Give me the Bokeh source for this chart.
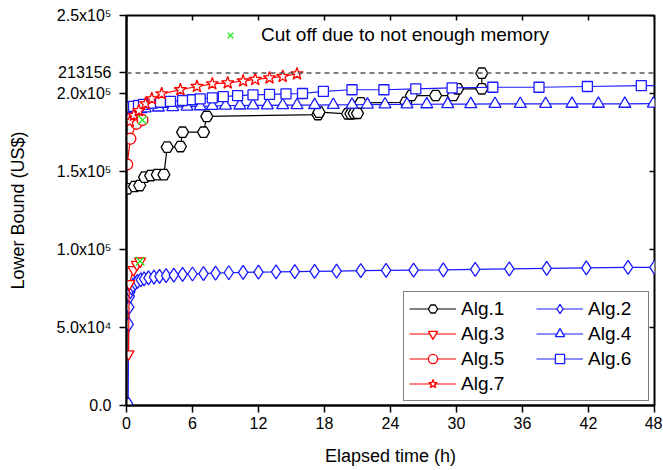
import math
from bokeh.plotting import figure
from bokeh.models import Range1d, FixedTicker, Span, Legend, LegendItem
from bokeh.embed import file_html
from bokeh.resources import INLINE

FONT = "Liberation Sans"
UPPER_BOUND = 213156
X_MIN, X_MAX = 0, 48
Y_MIN, Y_MAX = 0, 250000

x_ticks = [0, 6, 12, 18, 24, 30, 36, 42, 48]
y_ticks = [0, 50000, 100000, 150000, 200000, UPPER_BOUND, 250000]
y_tick_labels = ["0.0", "5.0x10⁴", "1.0x10⁵", "1.5x10⁵", "2.0x10⁵", "213156", "2.5x10⁵"]
y_mirror_ticks = [0, 50000, 100000, 150000, 200000, 250000]

# Alg.1 (black pentagons)
alg1_t = [0.06, 0.73, 1.2, 1.64, 2.2, 2.8, 3.4, 3.7, 4.9, 5.1, 7.0, 7.3, 17.4, 17.5,
          20.1, 20.4, 20.7, 21.0, 21.3, 25.4, 25.9, 28.1, 29.7, 30.1, 32.3, 32.3]
alg1_v = [138900, 140400, 141000, 146400, 147400, 148000, 148000, 165600, 166000, 175200, 175200, 185300, 186500, 188000,
          187000, 187000, 187300, 187300, 194000, 194400, 198700, 198700, 198700, 203000, 203000, 213000]

# Alg.2 (blue diamonds)
alg2_t = [0.15, 0.2, 0.25, 0.3, 0.35, 0.45, 0.6, 0.8, 1.0, 1.3, 1.6, 2.0, 2.5, 3.0, 3.6, 4.3, 5.1, 6.0,
          7.0, 8.1, 9.3, 10.6, 12.0, 13.6, 15.3, 17.1, 19.1, 21.3, 23.6, 26.1, 28.8, 31.7, 34.8,
          38.2, 41.8, 45.6, 48.0]
alg2_v = [1000, 52000, 63000, 70000, 73000, 75500, 77000, 78500, 79500, 80500, 81200, 81800, 82300, 82800,
          83200, 83600, 84000, 84300, 84600, 84900, 85100, 85300, 85500, 85600, 85800, 86000, 86200, 86400,
          86600, 86800, 87000, 87300, 87600, 87900, 88200, 88500, 88600]

# Alg.3 (red inverted triangles)
alg3_t = [0.18, 0.25, 0.64, 0.94, 1.24]
alg3_v = [33000, 78000, 87000, 90400, 92500]

# Alg.4 (blue triangles)
alg4_t = [0.2, 0.45, 0.8, 1.3, 1.7, 2.9, 4.2, 5.5, 6.7, 7.8, 9.0, 10.3, 11.5, 12.8, 14.2, 15.5, 17.1,
          18.8, 20.5, 21.9, 23.5, 25.5, 27.3, 29.2, 31.3, 33.5, 35.8, 38.1, 40.5, 42.9, 45.3, 47.9, 49.0]
alg4_v = [186000, 188500, 189500, 190000, 190500, 191000, 191300, 191600, 191800, 192000, 192200, 192300,
          192400, 192400, 192500, 192500, 192600, 192700, 192800, 192900, 193000, 193000, 193100, 193200,
          193200, 193300, 193300, 193300, 193400, 193400, 193400, 193500, 193500]

# Alg.5 (red circles)
alg5_t = [0.06, 0.35, 0.9, 1.45]
alg5_v = [154500, 171000, 180600, 183000]

# Alg.6 (blue squares)
alg6_t = [0.05, 0.18, 0.64, 1.09, 1.55, 2.36, 3.09, 4.0, 5.1, 6.0, 6.7, 7.8, 8.8, 10.1, 11.5, 13.0, 14.5,
          16.0, 17.9, 20.5, 23.4, 26.3, 29.6, 33.3, 37.5, 41.9, 46.8, 49.0]
alg6_v = [183800, 191200, 191700, 192300, 193000, 193800, 194400, 195000, 195500, 196000, 196600, 197200,
          198000, 198700, 199100, 199400, 199800, 200000, 201300, 202400, 202400, 203000, 203600, 204000,
          204000, 204500, 205000, 205100]

# Alg.7 (red stars)
alg7_t = [0.3, 0.67, 1.12, 1.73, 2.3, 3.2, 4.9, 6.4, 7.8, 9.2, 10.6, 11.7, 13.0, 14.2, 15.5]
alg7_v = [182000, 186000, 189000, 193400, 196600, 199800, 202400, 204500, 206200, 206800, 208000, 209000,
          210000, 210900, 212600]

# cut-off points (end of Alg.3 and Alg.5)
cut_t = [alg3_t[-1], alg5_t[-1]]
cut_v = [alg3_v[-1], alg5_v[-1]]

p = figure(frame_width=528, frame_height=390, output_backend="svg", toolbar_location=None,
           x_range=Range1d(X_MIN, X_MAX), y_range=Range1d(Y_MIN, Y_MAX),
           min_border_left=126, min_border_right=8, min_border_top=15, min_border_bottom=62)
p.grid.visible = False
p.outline_line_color = "black"
p.outline_line_width = 2
p.background_fill_color = "white"
p.border_fill_color = "white"

xa = p.xaxis[0]
xa.ticker = FixedTicker(ticks=x_ticks)
xa.axis_label = "Elapsed time (h)"
ya = p.yaxis[0]
ya.ticker = FixedTicker(ticks=y_ticks)
ya.major_label_overrides = {t: l for t, l in zip(y_ticks, y_tick_labels)}
ya.axis_label = "Lower Bound (US$)"
for ax in (xa, ya):
    ax.axis_line_width = 2
    ax.axis_line_color = "black"
    ax.major_tick_line_width = 1.5
    ax.major_tick_in = 0
    ax.major_tick_out = 7
    ax.minor_tick_line_color = None
    ax.major_label_text_font = FONT
    ax.major_label_text_font_size = "16px"
    ax.major_label_text_color = "black"
    ax.axis_label_text_font = FONT
    ax.axis_label_text_font_size = "18px"
    ax.axis_label_text_font_style = "normal"
    ax.axis_label_text_color = "black"
xa.major_label_standoff = 4
xa.axis_label_standoff = 14
ya.major_label_standoff = 8
ya.axis_label_standoff = 26

# mirrored inward ticks on top and right edges
p.ray(x=x_ticks, y=[Y_MAX] * len(x_ticks), length=5, length_units="screen",
      angle=-math.pi / 2, line_color="black", line_width=1.5)
p.ray(x=[X_MAX] * len(y_mirror_ticks), y=y_mirror_ticks, length=5, length_units="screen",
      angle=math.pi, line_color="black", line_width=1.5)

p.add_layout(Span(location=UPPER_BOUND, dimension="width", line_color="#555555",
                  line_dash="5 4", line_width=1.5))

BLUE = "#1a1aff"
RED = "#ff0000"

def series(t, v, color, marker, size, lw=1.2):
    ln = p.line(t, v, line_color=color, line_width=lw)
    sc = p.scatter(t, v, marker=marker, size=size, line_color=color, fill_color="white", line_width=1.3)
    return [ln, sc]

r1 = series(alg1_t, alg1_v, "black", "hex", 12)
r2 = series(alg2_t, alg2_v, BLUE, "diamond", 14)
r4 = series(alg4_t, alg4_v, BLUE, "triangle", 12)
r6 = series(alg6_t, alg6_v, BLUE, "square", 10)
r3 = series(alg3_t, alg3_v, RED, "inverted_triangle", 11)
r5 = series(alg5_t, alg5_v, RED, "circle", 11)
r7 = series(alg7_t, alg7_v, RED, "star", 13)
rc = p.scatter(cut_t, cut_v, marker="x", size=12, line_color="#22ee22", line_width=1.3)

common = dict(label_text_font=FONT, label_text_font_size="19px", label_text_color="black",
              glyph_width=47, glyph_height=23, label_height=23, label_standoff=5,
              spacing=2, padding=5, margin=0)

# legend column 1 with the surrounding box
leg_a = Legend(items=[LegendItem(label="Alg.1", renderers=r1), LegendItem(label="Alg.3", renderers=r3),
                      LegendItem(label="Alg.5", renderers=r5), LegendItem(label="Alg.7", renderers=r7)],
               location=(277, 4), border_line_color="black", border_line_width=1.2,
               background_fill_color="white", background_fill_alpha=1, label_width=182, **common)
# legend column 2, no box
leg_b = Legend(items=[LegendItem(label="Alg.2", renderers=r2), LegendItem(label="Alg.4", renderers=r4),
                      LegendItem(label="Alg.6", renderers=r6)],
               location=(410, 35), border_line_color=None, background_fill_alpha=0, **common)
p.add_layout(leg_a)
p.add_layout(leg_b)

leg_c = Legend(items=[LegendItem(label="Cut off due to not enough memory", renderers=[rc])],
               location=(94, 359), border_line_color=None, background_fill_alpha=0,
               label_text_font=FONT, label_text_font_size="19px", label_text_color="black",
               glyph_width=20, glyph_height=22, label_height=22, label_standoff=21, padding=0, margin=0)
p.add_layout(leg_c)

open("out.html", "w").write(file_html(p, INLINE))
